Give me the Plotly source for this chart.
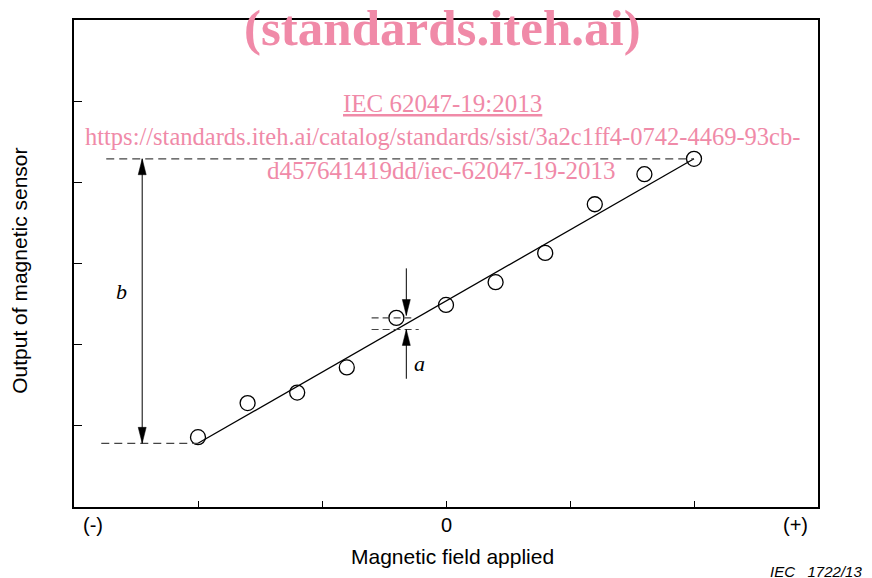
import plotly.graph_objects as go

# ---- data ----
field = [-2.0, -1.6, -1.2, -0.8, -0.4, 0.0, 0.4, 0.8, 1.2, 1.6, 2.0]
output = [0.86, 1.28, 1.41, 1.72, 2.33, 2.49, 2.77, 3.13, 3.73, 4.10, 4.29]
fit_field = [-2.0, 2.0]
fit_output = [0.785, 4.29]
x_ticks = [-2, -1, 0, 1, 2]
y_ticks = [1, 2, 3, 4, 5, 6]
x_tick_labels = ["(-)", "0", "(+)"]
x_tick_label_pos = [-2.85, 0.0, 2.82]

# annotation geometry (data units)
b_arrow_x = -2.45
dash_low_start = -2.78
dash_high_start = -2.74
a_arrow_x = -0.32
a_point_index = 4
a_top_tail = 2.94
a_bottom_tail = 1.58
a_dash_start = -0.60
a_dash_end_top = -0.28
a_dash_end_bottom = -0.22

# the page adds an 8px body margin, so the figure is 8px smaller
PAGE_OFF = 8
W, H = 872 - PAGE_OFF, 578 - PAGE_OFF
M = dict(l=74 - PAGE_OFF, r=54, t=18 - PAGE_OFF, b=71)
XR = [-3, 3]
YR = [0, 6]
sx = (W - M["l"] - M["r"]) / (XR[1] - XR[0])
sy = (H - M["t"] - M["b"]) / (YR[1] - YR[0])

pink = "#f08aa8"
dash_col = "#444444"

fig = go.Figure()

# fitted line
fig.add_trace(go.Scatter(x=fit_field, y=fit_output, mode="lines",
                         line=dict(color="black", width=1.3), hoverinfo="skip"))
# measured points
fig.add_trace(go.Scatter(x=field, y=output, mode="markers",
                         marker=dict(symbol="circle-open", size=15, color="black",
                                     line=dict(width=1.3, color="black")),
                         hoverinfo="skip"))

# dashed reference levels for b
fig.add_trace(go.Scatter(x=[dash_low_start, fit_field[0]], y=[fit_output[0]] * 2, mode="lines",
                         line=dict(color=dash_col, width=1.3, dash="8px,5px"), hoverinfo="skip"))
fig.add_trace(go.Scatter(x=[dash_high_start, fit_field[1]], y=[fit_output[1]] * 2, mode="lines",
                         line=dict(color=dash_col, width=1.3, dash="8px,5px"), hoverinfo="skip"))

# deviation a: dashed levels
a_pt = output[a_point_index]
a_fit = fit_output[0] + (fit_output[1] - fit_output[0]) * (field[a_point_index] - fit_field[0]) / (fit_field[1] - fit_field[0])
fig.add_trace(go.Scatter(x=[a_dash_start, a_dash_end_top], y=[a_pt] * 2, mode="lines",
                         line=dict(color=dash_col, width=1.2, dash="7px,4px"), hoverinfo="skip"))
fig.add_trace(go.Scatter(x=[a_dash_start, a_dash_end_bottom], y=[a_fit] * 2, mode="lines",
                         line=dict(color=dash_col, width=1.2, dash="7px,4px"), hoverinfo="skip"))

# arrow shafts
def shaft(x, y0, y1):
    fig.add_trace(go.Scatter(x=[x, x], y=[y0, y1], mode="lines",
                             line=dict(color="black", width=1), hoverinfo="skip"))

HL, HW = 16, 4  # arrowhead length / half width in px
shapes = []
def head(x, y, up):
    hl = HL / sy
    hw = HW / sx
    base = y - hl if up else y + hl
    shapes.append(dict(type="path", xref="x", yref="y",
                       path=f"M{x},{y} L{x - hw},{base} L{x + hw},{base} Z",
                       fillcolor="black", line=dict(color="black", width=0.5)))

shaft(b_arrow_x, fit_output[0], fit_output[1])
head(b_arrow_x, fit_output[1], True)
head(b_arrow_x, fit_output[0], False)

shaft(a_arrow_x, a_top_tail, a_pt + 0.03)
head(a_arrow_x, a_pt + 0.03, False)
shaft(a_arrow_x, a_bottom_tail, a_fit)
head(a_arrow_x, a_fit, True)

ann = []
# x tick labels
for t, p in zip(x_tick_labels, x_tick_label_pos):
    ann.append(dict(x=p, y=-0.037, xref="x", yref="paper", text=t, showarrow=False,
                    font=dict(family="Liberation Sans, Arial", size=20, color="black"),
                    xanchor="center", yanchor="middle"))
# axis titles
ann.append(dict(x=0.056, y=-0.102, xref="x", yref="paper", text="Magnetic field applied",
                showarrow=False, font=dict(family="Liberation Sans, Arial", size=21, color="black"),
                xanchor="center", yanchor="middle"))
ann.append(dict(x=-0.0726, y=0.485, xref="paper", yref="paper", text="Output of magnetic sensor",
                showarrow=False, textangle=-90,
                font=dict(family="Liberation Sans, Arial", size=21, color="black"),
                xanchor="center", yanchor="middle"))
ann.append(dict(x=1.062, y=-0.133, xref="paper", yref="paper", text="<i>IEC\u00a0\u00a0\u00a01722/13</i>",
                showarrow=False, font=dict(family="Liberation Sans, Arial", size=15, color="black"),
                xanchor="right", yanchor="middle"))
# letters
ann.append(dict(x=-2.62, y=2.66, text="<i>b</i>", showarrow=False,
                font=dict(family="Liberation Serif, Times New Roman", size=22, color="black")))
ann.append(dict(x=-0.21, y=1.77, text="<i>a</i>", showarrow=False,
                font=dict(family="Liberation Serif, Times New Roman", size=22, color="black")))
# watermark texts
ann.append(dict(x=-0.03, y=5.9, text="<b>(standards.iteh.ai)</b>", showarrow=False,
                font=dict(family="Liberation Serif, Times New Roman", size=51, color=pink),
                xanchor="center", yanchor="middle"))
ann.append(dict(x=-0.03, y=4.97, text="<u>IEC 62047-19:2013</u>", showarrow=False,
                font=dict(family="Liberation Serif, Times New Roman", size=25, color=pink),
                xanchor="center", yanchor="middle"))
ann.append(dict(x=-0.03, y=4.57,
                text="https://standards.iteh.ai/catalog/standards/sist/3a2c1ff4-0742-4469-93cb-",
                showarrow=False,
                font=dict(family="Liberation Serif, Times New Roman", size=24.5, color=pink),
                xanchor="center", yanchor="middle"))
ann.append(dict(x=-0.04, y=4.15, text="d457641419dd/iec-62047-19-2013", showarrow=False,
                font=dict(family="Liberation Serif, Times New Roman", size=25, color=pink),
                xanchor="center", yanchor="middle"))

fig.update_layout(
    width=W, height=H, margin=M,
    paper_bgcolor="white", plot_bgcolor="white",
    showlegend=False,
    shapes=shapes, annotations=ann,
    xaxis=dict(range=XR, tickvals=x_ticks, showticklabels=False, ticks="inside", ticklen=6,
               tickwidth=1.2, tickcolor="black", showgrid=False, zeroline=False,
               showline=True, linecolor="black", linewidth=1.6, mirror=True, fixedrange=True),
    yaxis=dict(range=YR, tickvals=y_ticks, showticklabels=False, ticks="inside", ticklen=8,
               tickwidth=1.2, tickcolor="black", showgrid=False, zeroline=False,
               showline=True, linecolor="black", linewidth=1.6, mirror=True, fixedrange=True),
)

fig.write_html("out.html")
